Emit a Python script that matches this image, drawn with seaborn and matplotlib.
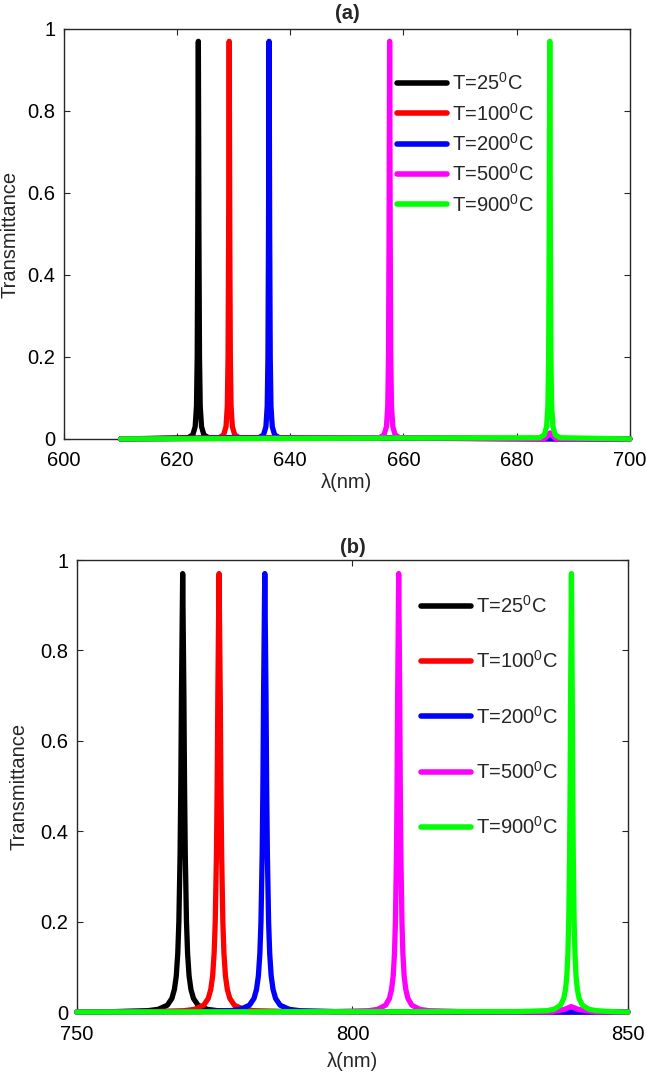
import pandas as pd
import numpy as np
import seaborn as sns
import matplotlib.pyplot as plt
from matplotlib.lines import Line2D

# ---- data ----
labels = ["T=25$^0$C", "T=100$^0$C", "T=200$^0$C", "T=500$^0$C", "T=900$^0$C"]
colors = ["#000000", "#ff0000", "#0000ff", "#ff00ff", "#00ff00"]

# panel (a): 610-700 nm, very narrow peaks
peak_a_y = [0, 0.003, 0.01, 0.03, 0.08, 0.2, 0.5, 0.7, 0.97, 0.7, 0.5, 0.2, 0.08, 0.03, 0.01, 0.003, 0]
a_black_x = [610, 621.95, 622.77, 623.19, 623.42, 623.55, 623.65, 623.69, 623.75,
             623.81, 623.85, 623.95, 624.08, 624.31, 624.73, 625.55, 700]
a_red_x = [610, 627.4, 628.22, 628.64, 628.87, 629.0, 629.1, 629.14, 629.2,
           629.26, 629.3, 629.4, 629.53, 629.76, 630.18, 631.0, 700]
a_blue_x = [610, 634.45, 635.27, 635.69, 635.92, 636.05, 636.15, 636.19, 636.25,
            636.31, 636.35, 636.45, 636.58, 636.81, 637.23, 638.05, 700]
a_mag_x = [610, 655.75, 656.57, 656.99, 657.22, 657.35, 657.45, 657.49, 657.55,
           657.61, 657.65, 657.75, 657.88, 658.11, 658.53, 659.35,
           684.8, 685.5, 685.9, 686.3, 687.0, 700]
a_mag_y = [0, 0.003, 0.01, 0.03, 0.08, 0.2, 0.5, 0.7, 0.97, 0.7, 0.5, 0.2, 0.08, 0.03, 0.01, 0.003,
           0, 0.008, 0.015, 0.008, 0, 0]
a_green_x = [610, 684.05, 684.87, 685.29, 685.52, 685.65, 685.75, 685.79, 685.85,
             685.91, 685.95, 686.05, 686.18, 686.41, 686.83, 687.65, 700]

# panel (b): 750-850 nm, broader peaks
peak_b_y = [0, 0.001, 0.003, 0.006, 0.015, 0.03, 0.05, 0.08, 0.13, 0.2, 0.35, 0.5, 0.7, 0.97,
            0.7, 0.5, 0.35, 0.2, 0.13, 0.08, 0.05, 0.03, 0.015, 0.006, 0.003, 0.001, 0]
b_black_x = [750, 757, 762.9, 764.76, 766.41, 767.24, 767.7, 768.04, 768.31, 768.51, 768.73,
             768.86, 768.98, 769.2, 769.42, 769.54, 769.67, 769.89, 770.09, 770.36, 770.7,
             771.16, 771.99, 773.64, 775.5, 782, 850]
b_red_x = [750, 763.6, 769.5, 771.36, 773.01, 773.84, 774.3, 774.64, 774.91, 775.11, 775.33,
           775.46, 775.58, 775.8, 776.02, 776.14, 776.27, 776.49, 776.69, 776.96, 777.3,
           777.76, 778.59, 780.24, 782.1, 788.4, 850]
b_blue_x = [750, 771.9, 777.8, 779.66, 781.31, 782.14, 782.6, 782.94, 783.21, 783.41, 783.63,
            783.76, 783.88, 784.1, 784.32, 784.44, 784.57, 784.79, 784.99, 785.26, 785.6,
            786.06, 786.89, 788.54, 790.4, 796.7, 850]
b_mag_x = [750, 797, 803.0, 804.6, 806.01, 806.72, 807.11, 807.41, 807.64, 807.81, 808.0,
           808.11, 808.21, 808.4, 808.59, 808.69, 808.8, 808.99, 809.16, 809.39, 809.69,
           810.08, 810.79, 812.2, 813.8, 820, 836, 838.5, 839.7, 841, 844, 850]
b_mag_y = [0, 0.001, 0.003, 0.006, 0.015, 0.03, 0.05, 0.08, 0.13, 0.2, 0.35, 0.5, 0.7, 0.97,
           0.7, 0.5, 0.35, 0.2, 0.13, 0.08, 0.05, 0.03, 0.015, 0.006, 0.003, 0.001,
           0, 0.006, 0.012, 0.006, 0, 0]
b_green_x = [750, 830, 835.25, 836.58, 837.76, 838.35, 838.68, 838.92, 839.11, 839.26, 839.42,
             839.51, 839.6, 839.75, 839.9, 839.99, 840.08, 840.24, 840.39, 840.58, 840.82,
             841.15, 841.74, 842.92, 844.25, 847, 850]

panel_a = [(a_black_x, peak_a_y), (a_red_x, peak_a_y), (a_blue_x, peak_a_y),
           (a_mag_x, a_mag_y), (a_green_x, peak_a_y)]
panel_b = [(b_black_x, peak_b_y), (b_red_x, peak_b_y), (b_blue_x, peak_b_y),
           (b_mag_x, b_mag_y), (b_green_x, peak_b_y)]


def to_frame(series):
    rows = []
    for lab, (xs, ys) in zip(labels, series):
        for x, y in zip(xs, ys):
            rows.append({"wl": x, "T": y, "curve": lab})
    return pd.DataFrame(rows)


sns.set_style("ticks")
plt.rcParams["font.family"] = ["Liberation Sans", "DejaVu Sans"]
plt.rcParams["mathtext.fontset"] = "custom"
plt.rcParams["mathtext.rm"] = "Liberation Sans"
plt.rcParams["mathtext.default"] = "regular"
plt.rcParams["axes.edgecolor"] = "#262626"
plt.rcParams["xtick.color"] = "#262626"
plt.rcParams["ytick.color"] = "#262626"
plt.rcParams["xtick.labelcolor"] = "black"
plt.rcParams["ytick.labelcolor"] = "black"

FS = 14.5
fig = plt.figure(figsize=(6.46, 10.78), dpi=100)
ax_a = fig.add_axes([0.099, 0.5928, 0.876, 0.3803])
ax_b = fig.add_axes([0.119, 0.0612, 0.853, 0.4193])

configs = [
    # ax, data, title, xlim, xticks, legend anchor, label spacing, title pad, xlabel pad, ylabel x
    (ax_a, panel_a, "(a)", (600, 700), np.arange(600, 701, 20), (0.588, 0.895), 0.42, 7, 2, -0.078),
    (ax_b, panel_b, "(b)", (750, 850), [750, 800, 850], (0.624, 0.923), 1.66, 5, 6, -0.088),
]

for ax, series, title, xlim, xticks, leg_anchor, spacing, tpad, xpad, ylx in configs:
    df = to_frame(series)
    sns.lineplot(data=df, x="wl", y="T", hue="curve", palette=colors,
                 hue_order=labels, sort=False, estimator=None,
                 linewidth=3.8, legend=False, ax=ax)
    for ln in ax.get_lines():
        ln.set_clip_on(False)
        ln.set_zorder(3)
        ln.set_solid_capstyle("round")
        ln.set_solid_joinstyle("round")
    ax.set_xlim(*xlim)
    ax.set_ylim(0, 1)
    ax.set_xticks(xticks)
    ax.set_yticks([0, 0.2, 0.4, 0.6, 0.8, 1])
    ax.set_yticklabels(["0", "0.2", "0.4", "0.6", "0.8", "1"])
    ax.tick_params(direction="in", top=True, right=True, labelsize=FS,
                   length=4, width=0.8)
    ax.tick_params(axis="x", pad=9)
    ax.tick_params(axis="y", pad=6)
    for sp in ax.spines.values():
        sp.set_visible(True)
        sp.set_linewidth(1.0)
    ax.set_xlabel("λ(nm)", fontsize=FS, labelpad=xpad)
    ax.set_ylabel("Transmittance", fontsize=FS)
    ax.yaxis.set_label_coords(ylx, 0.5)
    ax.set_title(title, fontsize=FS, fontweight="bold", pad=tpad)
    handles = [Line2D([0], [0], color=c, lw=4) for c in colors]
    ax.legend(handles, labels, loc="upper left", bbox_to_anchor=leg_anchor,
              frameon=False, fontsize=FS, handlelength=2.5, handletextpad=0.25,
              labelspacing=spacing, borderaxespad=0, borderpad=0)

fig.savefig("out.png", dpi=100)
